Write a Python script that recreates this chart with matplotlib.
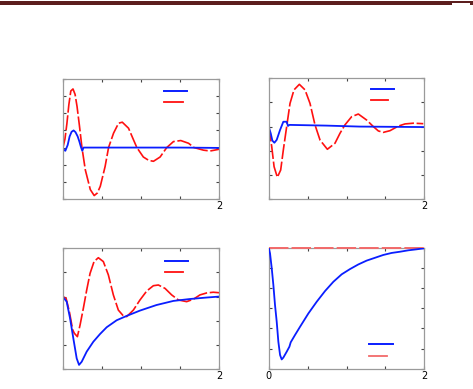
import matplotlib
matplotlib.use("Agg")
import matplotlib.pyplot as plt
from matplotlib.lines import Line2D
from matplotlib.patches import Rectangle

# ---------------- data ----------------
# Panel 1 (top-left)
p1_blue_t = [0, 0.01, 0.03, 0.06, 0.085, 0.11, 0.136, 0.16, 0.188, 0.21, 0.23, 0.247, 0.264, 0.29, 0.6, 1.0, 1.5, 2.0]
p1_blue_y = [-0.05, -0.12, -0.19, 0.15, 0.65, 0.92, 1.0, 0.9, 0.65, 0.35, 0.03, -0.19, 0.0, 0.0, 0.0, 0.0, 0.0, -0.02]
p1_red_t = [0, 0.025, 0.05, 0.075, 0.1, 0.128, 0.155, 0.18, 0.21, 0.243, 0.286, 0.35, 0.40, 0.44, 0.478, 0.54,
            0.584, 0.648, 0.712, 0.76, 0.84, 0.904, 0.947, 1.03, 1.1, 1.16, 1.245, 1.33, 1.416, 1.51, 1.61,
            1.68, 1.8, 1.885, 2.0]
p1_red_y = [0, 0.5, 1.4, 2.5, 3.3, 3.42, 3.1, 2.4, 1.3, 0.0, -1.3, -2.45, -2.8, -2.65, -2.26, -1.1,
            0.0, 0.84, 1.42, 1.48, 1.13, 0.45, 0.0, -0.55, -0.75, -0.8, -0.55, 0.0, 0.35, 0.41, 0.25,
            0.0, -0.15, -0.2, -0.1]

# Panel 2 (top-right)
p2_blue_t = [0, 0.026, 0.047, 0.073, 0.103, 0.146, 0.188, 0.231, 0.248, 0.266, 0.745, 1.17, 2.0]
p2_blue_y = [0, -0.28, -0.58, -0.67, -0.55, -0.14, 0.2, 0.2, 0.025, 0.07, 0.04, 0.0, -0.02]
p2_red_t = [0, 0.039, 0.069, 0.111, 0.154, 0.188, 0.231, 0.274, 0.325, 0.394, 0.467, 0.531, 0.595, 0.66,
            0.754, 0.852, 0.916, 0.98, 1.066, 1.152, 1.259, 1.345, 1.409, 1.473, 1.559, 1.666, 1.752,
            1.859, 1.987]
p2_red_y = [0, -0.83, -1.66, -2.1, -1.8, -0.97, 0.0, 0.96, 1.52, 1.75, 1.52, 0.96, 0.07, -0.56,
            -0.94, -0.69, -0.28, 0.07, 0.41, 0.52, 0.27, 0.0, -0.18, -0.24, -0.17, 0.02, 0.11,
            0.14, 0.12]

# Panel 3 (bottom-left)
p3_blue_t = [0, 0.051, 0.094, 0.136, 0.179, 0.209, 0.243, 0.307, 0.392, 0.478, 0.563, 0.691, 0.819,
             0.989, 1.2, 1.416, 1.63, 1.84, 2.0]
p3_blue_y = [0, -0.21, -0.9, -1.73, -2.56, -2.83, -2.7, -2.28, -1.87, -1.55, -1.27, -0.98, -0.8,
             -0.58, -0.35, -0.18, -0.1, -0.04, 0.0]
p3_red_t = [0, 0.043, 0.085, 0.128, 0.149, 0.188, 0.222, 0.264, 0.307, 0.35, 0.401, 0.456, 0.52, 0.584,
            0.648, 0.712, 0.776, 0.819, 0.904, 0.989, 1.075, 1.16, 1.224, 1.309, 1.394, 1.48, 1.586,
            1.672, 1.757, 1.842, 1.927, 2.0]
p3_red_y = [0, -0.07, -0.62, -1.38, -1.52, -1.66, -1.18, -0.49, 0.27, 0.96, 1.45, 1.61, 1.45, 0.9,
            0.07, -0.56, -0.8, -0.83, -0.56, -0.14, 0.23, 0.45, 0.48, 0.34, 0.07, -0.14, -0.21,
            -0.11, 0.07, 0.15, 0.18, 0.16]

# Panel 4 (bottom-right)
p4_blue_t = [0, 0.017, 0.039, 0.06, 0.081, 0.103, 0.124, 0.146, 0.167, 0.188, 0.231, 0.266, 0.283,
             0.338, 0.403, 0.51, 0.617, 0.724, 0.831, 0.938, 1.045, 1.152, 1.259, 1.366, 1.473,
             1.58, 1.687, 1.794, 1.901, 2.0]
p4_blue_y = [6.0, 5.72, 4.98, 4.15, 3.16, 2.33, 1.34, 0.68, 0.46, 0.55, 0.84, 1.09, 1.31,
             1.67, 2.08, 2.74, 3.32, 3.85, 4.31, 4.68, 4.94, 5.17, 5.36, 5.5, 5.64,
             5.74, 5.8, 5.87, 5.92, 5.97]
p4_red_t = [0, 2.0]
p4_red_y = [6.0, 6.0]

x_ticks = [0, 0.5, 1.0, 1.5, 2.0]
x_labels_a = ["", "", "", "", "2"]
x_labels_b = ["0", "", "", "", "2"]

# ---------------- figure ----------------
W, H = 473, 389
fig = plt.figure(figsize=(W / 100, H / 100), dpi=100)
fig.patch.set_facecolor("white")

# top dark-red rule
fig.add_artist(Rectangle((0, 1 - 5 / H), 452 / W, 4 / H, transform=fig.transFigure,
                         facecolor="#5c1e1e", edgecolor="none"))
fig.add_artist(Rectangle((452 / W, 1 - 2.5 / H), 18 / W, 1.5 / H, transform=fig.transFigure,
                         facecolor="#5c1e1e", edgecolor="none"))
fig.add_artist(Rectangle((470 / W, 1 - 5 / H), 3 / W, 4 / H, transform=fig.transFigure,
                         facecolor="#5c1e1e", edgecolor="none"))

BLUE = "#0a1eff"
RED = "#ff1010"
SALMON = "#f26a6a"
DASH = (9, 1.6)


def make_axes(rect, ylim, yticks, xlabels):
    ax = fig.add_axes(rect)
    ax.set_xlim(0, 2)
    ax.set_ylim(*ylim)
    ax.set_xticks(x_ticks)
    ax.set_xticklabels(xlabels)
    ax.set_yticks(yticks)
    ax.set_yticklabels([])
    ax.tick_params(direction="in", length=2, width=0.8, color="#444444",
                   top=True, right=True, labelsize=7, pad=1.5)
    for s in ax.spines.values():
        s.set_color("#9a9a9a")
        s.set_linewidth(0.9)
    return ax


def legend_marks(ax, x0, x1b, x1r, yb, yr, cb, cr):
    ax.add_line(Line2D([x0, x1b], [yb, yb], transform=ax.transAxes, color=cb, lw=1.4))
    ax.add_line(Line2D([x0, x1r], [yr, yr], transform=ax.transAxes, color=cr, lw=1.3))


# panel 1
ax1 = make_axes([63 / W, 1 - 199 / H, 156 / W, 120 / H], (-3, 4), range(-3, 5), x_labels_a)
ax1.plot(p1_red_t, p1_red_y, color=RED, lw=1.2, dashes=DASH)
ax1.plot(p1_blue_t, p1_blue_y, color=BLUE, lw=1.3)
legend_marks(ax1, 0.647, 0.795, 0.769, 0.9025, 0.808, BLUE, RED)

# panel 2
ax2 = make_axes([268.7 / W, 1 - 199 / H, 155.6 / W, 120.7 / H], (-3, 2), range(-3, 3), x_labels_a)
ax2.plot(p2_red_t, p2_red_y, color=RED, lw=1.2, dashes=DASH)
ax2.plot(p2_blue_t, p2_blue_y, color=BLUE, lw=1.3)
legend_marks(ax2, 0.656, 0.807, 0.769, 0.911, 0.82, BLUE, RED)

# panel 3
ax3 = make_axes([62.7 / W, 1 - 369 / H, 156.3 / W, 120.7 / H], (-3, 2), range(-3, 3), x_labels_a)
ax3.plot(p3_red_t, p3_red_y, color=RED, lw=1.2, dashes=DASH)
ax3.plot(p3_blue_t, p3_blue_y, color=BLUE, lw=1.3)
legend_marks(ax3, 0.655, 0.80, 0.772, 0.895, 0.80, BLUE, RED)

# panel 4
ax4 = make_axes([268.7 / W, 1 - 368.7 / H, 155.6 / W, 121 / H], (0, 6), range(0, 7), x_labels_b)
ax4.plot(p4_red_t, p4_red_y, color=SALMON, lw=1.4, dashes=(10, 1.6), clip_on=False, zorder=3)
ax4.plot(p4_blue_t, p4_blue_y, color=BLUE, lw=1.3, zorder=3.5)
legend_marks(ax4, 0.647, 0.797, 0.758, 0.202, 0.105, BLUE, SALMON)

fig.savefig("out.png", dpi=100)
